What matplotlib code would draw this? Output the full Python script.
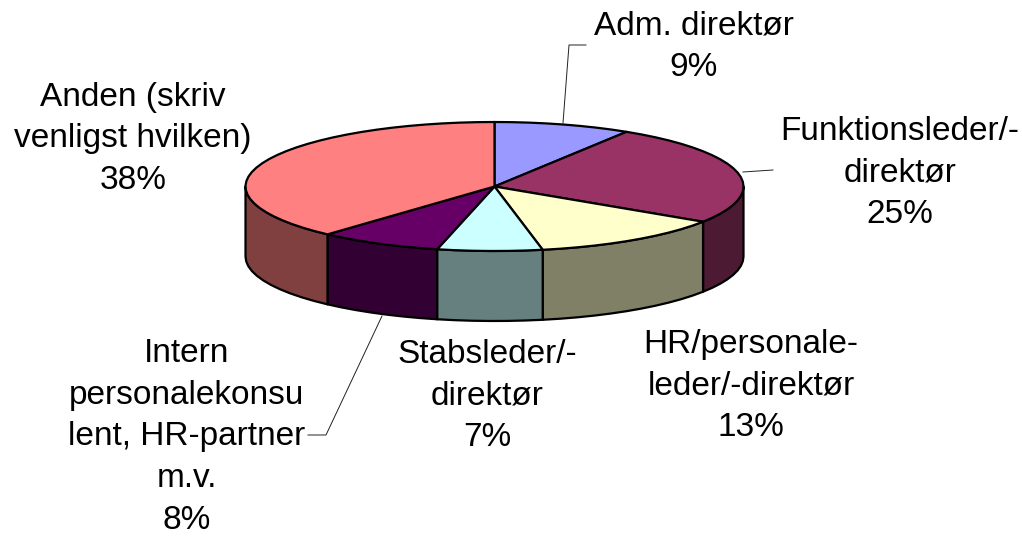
import numpy as np
import matplotlib
matplotlib.use("Agg")
import matplotlib.pyplot as plt

categories = ["Adm. direktør", "Funktionsleder/-direktør", "HR/personale-leder/-direktør",
              "Stabsleder/-direktør", "Intern personalekonsulent, HR-partner m.v.",
              "Anden (skriv venligst hvilken)"]
values = [8.9, 25.3, 12.7, 6.8, 8.0, 38.3]
label_texts = ["Adm. direktør\n9%", "Funktionsleder/-\ndirektør\n25%",
               "HR/personale-\nleder/-direktør\n13%", "Stabsleder/-\ndirektør\n7%",
               "Intern\npersonalekonsu\nlent, HR-partner\nm.v.\n8%",
               "Anden (skriv\nvenligst hvilken)\n38%"]
label_pos = [(694, 47), (900, 173), (751, 386), (487, 396), (187, 437), (133, 139)]
top_colors = ["#9999FF", "#993366", "#FFFFCC", "#CCFFFF", "#660066", "#FF8080"]
side_colors = ["#4D4D80", "#4D1A33", "#808066", "#668080", "#330033", "#804040"]
leaders = [[(563, 123), (569, 45), (586, 45)],
           [(743, 172), (773, 170)],
           [(382, 316), (326, 435), (308, 435)]]

CX, CY, RX, RY, DEPTH = 494.5, 186.5, 249, 64.5, 70

fig = plt.figure(figsize=(10.22, 5.37), dpi=100)
ax = fig.add_axes([0, 0, 1, 1])
ax.set_xlim(0, 1022)
ax.set_ylim(537, 0)
ax.axis("off")

def arc(a0, a1, dy=0):
    n = max(2, int((a1 - a0) / 4) + 1)
    t = np.radians(np.linspace(a0, a1, n))
    return CX + RX * np.sin(t), CY + dy - RY * np.cos(t)

edges = 360 * np.concatenate([[0], np.cumsum(values)]) / sum(values)
lw = 1.6
# outer walls (only the front half of the ellipse, 90..270 degrees from top)
for i in range(len(values)):
    a0, a1 = max(edges[i], 90), min(edges[i + 1], 270)
    if a1 <= a0:
        continue
    x0, y0 = arc(a0, a1)
    x1, y1 = arc(a0, a1, DEPTH)
    ax.fill(np.r_[x0, x1[::-1]], np.r_[y0, y1[::-1]], fc=side_colors[i], ec="black", lw=lw, joinstyle="round")
# top slices
for i in range(len(values)):
    x, y = arc(edges[i], edges[i + 1])
    ax.fill(np.r_[CX, x], np.r_[CY, y], fc=top_colors[i], ec="black", lw=lw, joinstyle="round")
for pts in leaders:
    xs, ys = zip(*pts)
    ax.plot(xs, ys, color="#222222", lw=0.7, zorder=1)
for (x, y), s in zip(label_pos, label_texts):
    ax.text(x, y, s, ha="center", va="center", multialignment="center",
            fontsize=24.0, family="Liberation Sans", color="black", linespacing=1.44)
fig.savefig("out.png", dpi=100)
